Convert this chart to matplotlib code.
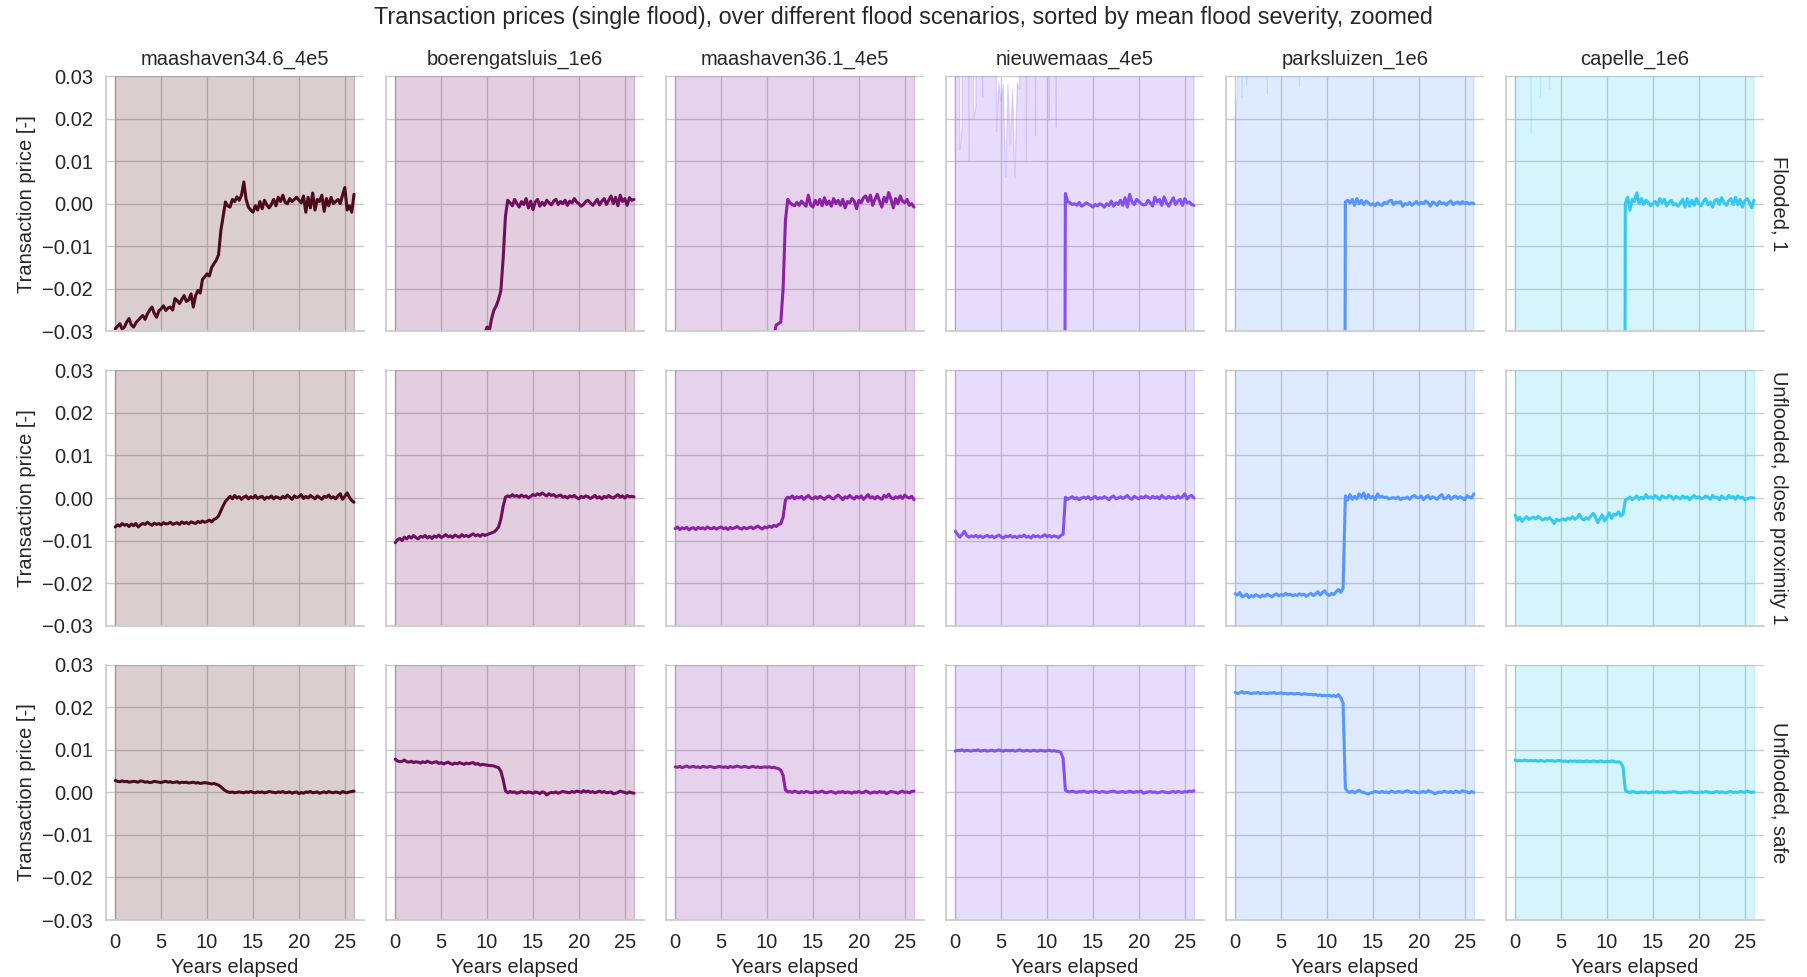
import numpy as np
import matplotlib
matplotlib.use("Agg")
import matplotlib.pyplot as plt
from matplotlib.ticker import FuncFormatter
import seaborn as sns

# ---------------- data ----------------
scenarios = ["maashaven34.6_4e5", "boerengatsluis_1e6", "maashaven36.1_4e5",
             "nieuwemaas_4e5", "parksluizen_1e6", "capelle_1e6"]
groups = ["Flooded, 1", "Unflooded, close proximity 1", "Unflooded, safe"]
colors = ["#4b0b1b", "#6f0d5e", "#8b22a6", "#8452f0", "#5697ff", "#35c9ef"]
years = np.arange(0, 26.001, 0.25)          # quarterly time steps, 0..26 years
x_ticks = [0, 5, 10, 15, 20, 25]
y_ticks = [-0.03, -0.02, -0.01, 0.0, 0.01, 0.02, 0.03]
scale = 1e-4                                 # values below are in units of 0.0001

# Flooded, 1
flooded_maashaven346 = [
    -294, -288, -282, -295, -290, -278, -270, -285,
    -290, -280, -274, -268, -263, -272, -259, -250,
    -243, -258, -267, -252, -247, -240, -251, -245,
    -243, -250, -223, -228, -235, -225, -216, -230,
    -226, -212, -243, -216, -204, -210, -178, -172,
    -165, -170, -150, -141, -133, -120, -63, -30,
    4, -5, -8, 10, 5, 16, 8, 20,
    51, 10, -8, -15, -20, -5, -15, 5,
    -12, 8, -3, -10, -2, 10, -5, 15,
    5, 20, 3, 0, 12, 5, 10, 15,
    8, 2, 18, -20, 15, -10, 25, -15,
    10, 5, 20, -18, 12, -5, 15, 0,
    5, 10, 0, 20, 38, -15, -5, -20,
    22]
flooded_boerengatsluis = [
    -620, -600, -610, -590, -580, -585, -570, -560,
    -555, -540, -545, -530, -520, -515, -505, -500,
    -490, -480, -470, -475, -460, -450, -445, -440,
    -430, -420, -415, -410, -400, -395, -385, -380,
    -370, -360, -355, -345, -340, -330, -320, -305,
    -290, -298, -270, -250, -240, -225, -205, -130,
    -30, 8, 2, -5, 10, 0, -8, 5,
    -2, 12, -10, 6, -14, 4, 10, -6,
    3, -4, 8, 2, -3, 6, 10, -2,
    5, 0, 8, -4, 6, 2, 12, 4,
    0, -6, -2, 5, 8, 2, -4, 3,
    10, -3, 6, 12, -2, 8, 18, 0,
    15, -5, 20, 5, 12, -4, 14, 8,
    10]
flooded_maashaven361 = [
    -700, -690, -680, -685, -670, -660, -655, -650,
    -640, -630, -625, -615, -610, -600, -590, -585,
    -575, -570, -560, -550, -545, -540, -530, -520,
    -515, -505, -500, -490, -480, -475, -465, -460,
    -450, -440, -430, -425, -415, -405, -395, -385,
    -370, -360, -340, -310, -285, -282, -278, -200,
    -40, 10, 2, -2, -5, 3, -4, 6,
    0, -6, 20, -3, -8, 8, -2, 10,
    -5, 14, -2, 6, -6, 12, 0, 8,
    -4, 10, -10, 5, 2, 12, 6, -12,
    8, 2, 14, 18, 5, 20, -4, 10,
    22, 6, -8, 15, 4, 26, 10, -10,
    12, 0, 18, 6, 2, 10, -4, 0,
    -8]
flooded_nieuwemaas = [
    -900, -880, -870, -860, -850, -845, -830, -820,
    -810, -800, -790, -780, -775, -760, -750, -745,
    -730, -720, -715, -700, -690, -685, -670, -660,
    -655, -640, -630, -620, -615, -600, -590, -585,
    -570, -560, -555, -540, -530, -525, -510, -500,
    -495, -480, -470, -465, -450, -440, -430, -2000,
    24, 5, 2, -2, 0, -4, 3, -6,
    -3, 2, -1, -4, -8, -2, -5, 0,
    -3, -8, 0, -4, 6, -6, 2, -2,
    8, -4, 14, -8, 22, 4, -2, 10,
    5, 0, -3, -2, 8, 2, -6, 15,
    4, 10, -4, 16, 2, -6, 4, 14,
    -2, 6, 10, -4, 12, 2, 4, -2,
    -4]
flooded_parksluizen = [
    -900, -890, -880, -870, -860, -850, -840, -830,
    -820, -810, -800, -790, -780, -770, -760, -750,
    -740, -730, -720, -710, -700, -690, -680, -670,
    -660, -650, -640, -630, -620, -610, -600, -590,
    -580, -570, -560, -550, -540, -530, -520, -510,
    -500, -490, -480, -470, -460, -450, -440, -2500,
    4, 8, 2, 10, -4, 12, 0, 8,
    -2, 6, 2, -3, 0, -5, 2, -2,
    -4, 3, 0, 6, 8, -2, 4, 2,
    5, -6, 0, -2, 3, -4, 1, 5,
    -2, 3, 0, 6, 2, -6, 4, 1,
    -4, 5, 0, 2, -3, 3, 6, -2,
    2, 4, -1, 5, 0, 3, -1, 2,
    0]
flooded_capelle = [
    -950, -940, -930, -920, -910, -900, -890, -880,
    -870, -860, -850, -840, -830, -820, -810, -800,
    -790, -780, -770, -760, -750, -740, -730, -720,
    -710, -700, -690, -680, -670, -660, -650, -640,
    -630, -620, -610, -600, -590, -580, -570, -560,
    -550, -540, -530, -520, -510, -500, -490, -2500,
    0, 15, -15, 10, 5, 25, 0, 12,
    -2, 8, 3, -5, 0, 5, -4, 12,
    2, 10, -5, 3, 8, -3, 0, -6,
    2, 10, -8, 12, -6, 8, -4, 12,
    0, -5, 5, 12, -3, 4, -8, 8,
    10, -2, 14, 2, -4, 6, 12, -2,
    15, -3, 10, -8, 6, 12, 4, -10,
    8]

# Unflooded, close proximity 1
close_maashaven346 = [
    -68, -63, -66, -60, -64, -62, -67, -61,
    -65, -60, -68, -63, -60, -62, -57, -61,
    -64, -59, -62, -60, -63, -58, -61, -60,
    -57, -62, -60, -58, -62, -56, -60, -57,
    -61, -56, -58, -60, -55, -58, -54, -57,
    -55, -52, -56, -50, -48, -42, -30, -18,
    -8, -2, 4, -2, 6, 0, 3, -3,
    2, 5, -2, 3, 0, 6, -1, 2,
    4, -3, 2, 0, 5, -2, 3, 1,
    -2, 4, 0, 7, 2, -3, 5, 1,
    3, 8, -1, 4, 0, 6, 2, -2,
    5, 1, -3, 4, 2, 7, 0, 3,
    -2, 5, 10, -3, 4, 12, 2, -6,
    -10]
close_boerengatsluis = [
    -105, -98, -95, -100, -92, -96, -90, -94,
    -88, -93, -96, -90, -92, -88, -94, -90,
    -95, -89, -92, -87, -93, -90, -86, -91,
    -89, -93, -87, -90, -92, -86, -90, -88,
    -91, -87, -84, -89, -86, -90, -85, -88,
    -86, -84, -82, -80, -75, -68, -50, -20,
    2, 5, 3, 8, 4, 6, 2, 7,
    3, 5, 0, 4, 8, 6, 10, 7,
    12, 8, 5, 10, 6, 8, 3, 5,
    7, 2, 4, 0, 5, 3, 6, 1,
    -2, 4, 1, 5, 3, -1, 2, 6,
    0, 3, -2, 4, 1, 6, 2, 0,
    4, 8, 2, 5, 0, 6, 3, 4,
    3]
close_maashaven361 = [
    -72, -68, -74, -70, -72, -69, -75, -71,
    -70, -74, -69, -72, -70, -73, -68, -71,
    -72, -69, -73, -70, -68, -72, -70, -74,
    -69, -72, -70, -67, -71, -73, -69, -72,
    -70, -68, -72, -69, -66, -70, -73, -68,
    -70, -66, -69, -64, -67, -62, -60, -45,
    -5, 2, 0, 5, -2, 3, 0, 4,
    -3, 2, 6, 0, -2, 3, -1, 4,
    1, -3, 2, 5, 0, -2, 3, 7,
    2, -4, 3, 0, 6, 1, -2, 4,
    0, 5, -3, 2, 8, 0, 3, -2,
    4, 0, -3, 6, 2, 9, 1, -2,
    3, 0, 5, -1, 7, 2, 0, 4,
    -4]
close_nieuwemaas = [
    -78, -85, -92, -86, -78, -88, -92, -89,
    -91, -88, -92, -89, -93, -90, -88, -92,
    -89, -93, -90, -87, -91, -94, -89, -91,
    -88, -92, -90, -93, -89, -91, -87, -92,
    -90, -94, -88, -91, -89, -92, -90, -86,
    -91, -88, -92, -89, -90, -93, -88, -85,
    2, -3, 0, 3, -2, 1, -4, 0,
    2, -1, 3, -3, 0, 4, -2, 1,
    -1, 3, 0, -4, 2, 5, -2, 0,
    3, -1, 2, 6, 0, -3, 4, 1,
    -2, 3, 0, 5, 2, -1, 4, 0,
    3, -2, 6, 1, -1, 4, 0, 2,
    -1, 5, 0, 3, 10, -2, 4, 6,
    0]
close_parksluizen = [
    -225, -228, -222, -232, -230, -226, -234, -229,
    -232, -227, -230, -233, -228, -231, -226, -229,
    -232, -228, -225, -230, -227, -229, -224, -228,
    -226, -230, -227, -229, -225, -228, -226, -231,
    -227, -224, -229, -226, -220, -228, -222, -218,
    -226, -229, -224, -227, -220, -215, -222, -212,
    5, -5, 8, -3, 4, -2, 10, 2,
    12, -2, 8, 0, 4, -4, 10, 2,
    4, 1, 2, -2, 0, 1, -1, 2,
    -4, 0, -1, 2, -3, 3, 6, 2,
    0, 5, -4, 2, 6, -2, 3, 0,
    -3, 4, 8, -2, 0, 6, -3, 2,
    5, -1, 3, 0, -4, 6, 2, 0,
    10]
close_capelle = [
    -40, -52, -45, -55, -48, -44, -50, -47,
    -45, -49, -43, -47, -52, -48, -50, -46,
    -52, -60, -50, -53, -51, -49, -52, -47,
    -50, -44, -50, -46, -38, -48, -52, -46,
    -50, -42, -36, -45, -58, -48, -40, -54,
    -45, -35, -48, -38, -40, -32, -42, -38,
    -5, -2, 2, -4, 0, 5, -3, 2,
    -2, 8, 0, 3, -1, 6, 2, -4,
    5, 2, 0, 6, 3, -3, 4, 1,
    -2, 5, 0, 3, -4, 2, 6, 0,
    3, -2, 0, 5, 2, -3, 6, 1,
    2, -4, 5, 0, -2, 6, 1, 3,
    -3, 5, 0, 2, -4, -2, 0, 1,
    0]

# Unflooded, safe
safe_maashaven346 = [
    28, 26, 25, 27, 25, 26, 24, 25,
    26, 25, 24, 27, 26, 24, 25, 23,
    24, 26, 25, 24, 23, 25, 26, 24,
    25, 23, 24, 25, 22, 24, 23, 24,
    22, 23, 24, 22, 23, 21, 22, 23,
    22, 21, 20, 21, 19, 17, 13, 8,
    4, 1, 0, 1, -1, 0, 1, 0,
    -1, 1, 0, 2, 0, -1, 1, 0,
    1, -1, 0, 2, 1, 0, -1, 1,
    0, 2, -1, 0, 1, -2, 0, 1,
    -3, 0, -2, 1, 0, 2, -1, 0,
    1, -2, 0, 1, -1, 2, 0, -1,
    1, 0, -2, 2, 0, -1, 1, 2,
    3]
safe_boerengatsluis = [
    78, 74, 72, 73, 76, 72, 71, 73,
    70, 72, 71, 69, 72, 70, 73, 71,
    69, 71, 72, 68, 70, 67, 69, 71,
    68, 66, 69, 67, 70, 68, 66, 69,
    67, 69, 70, 66, 68, 64, 66, 65,
    64, 63, 63, 62, 60, 58, 50, 30,
    4, -1, 2, 0, 1, -2, 0, 2,
    0, -1, 1, 0, -2, 1, 0, -3,
    1, 0, -6, -2, 0, -1, 1, -2,
    0, 2, 1, 0, -1, 2, 0, 3,
    2, 0, 4, 1, 3, 0, 2, -1,
    1, 3, 0, 2, -1, 0, 1, -3,
    -2, 0, 3, 1, 0, -2, 1, -1,
    -2]
safe_maashaven361 = [
    60, 59, 61, 58, 60, 62, 59, 60,
    61, 59, 60, 58, 61, 60, 59, 61,
    60, 58, 59, 61, 60, 59, 60, 58,
    61, 59, 60, 62, 60, 59, 61, 60,
    58, 60, 61, 59, 60, 58, 59, 60,
    59, 60, 58, 59, 57, 56, 52, 40,
    6, 1, 2, 0, 3, 1, -1, 2,
    0, 2, 1, -1, 0, 2, 0, 1,
    3, 0, -1, 1, 2, 0, -2, 1,
    0, 2, -1, 1, 0, -2, 1, 0,
    2, -1, 0, 3, 1, -2, 0, 1,
    -1, 2, 0, 1, -3, 0, 2, 1,
    0, -2, 1, 3, 0, 1, -1, 2,
    3]
safe_nieuwemaas = [
    97, 99, 98, 100, 97, 99, 98, 97,
    99, 98, 100, 97, 98, 99, 97, 98,
    99, 97, 98, 100, 98, 97, 99, 98,
    98, 99, 97, 98, 100, 98, 97, 99,
    98, 97, 99, 98, 97, 99, 98, 97,
    98, 99, 97, 98, 97, 96, 94, 80,
    5, 2, 1, 3, 1, 0, 2, 1,
    3, 1, 0, 2, 1, 3, 1, 0,
    2, 1, 0, 1, 2, 3, 1, 0,
    1, 2, 0, 1, 3, 1, 0, 2,
    1, 3, -2, 0, 1, 2, 0, 1,
    -1, 0, 2, 1, 0, -1, 1, 2,
    0, 2, 1, 0, 2, 1, 3, 2,
    4]
safe_parksluizen = [
    235, 232, 234, 237, 233, 235, 234, 232,
    234, 233, 235, 232, 234, 233, 232, 234,
    233, 235, 232, 233, 234, 232, 233, 231,
    233, 232, 231, 233, 232, 230, 232, 231,
    230, 231, 229, 230, 228, 229, 227, 228,
    227, 228, 226, 228, 225, 230, 222, 210,
    10, 2, 0, 3, -1, 2, 5, 1,
    0, -2, -4, -1, 0, 2, 1, 0,
    2, 0, 1, -1, 3, 1, 0, 2,
    1, 0, 2, 4, 1, 0, 2, 0,
    -1, 1, 2, 0, 4, 2, 0, -3,
    -1, 1, 0, 3, 1, 0, 2, -1,
    3, 1, 0, 4, 2, 1, -1, 2,
    0]
safe_capelle = [
    76, 74, 75, 74, 76, 75, 74, 75,
    74, 75, 73, 75, 74, 73, 75, 74,
    75, 73, 74, 75, 74, 73, 74, 72,
    74, 73, 74, 72, 74, 73, 72, 74,
    73, 72, 74, 73, 72, 74, 73, 72,
    73, 72, 74, 73, 71, 72, 70, 60,
    5, 1, 0, 2, 1, -1, 0, 1,
    0, 1, -1, 0, 1, 0, 2, 0,
    1, -1, 0, 1, 0, 2, 1, 0,
    -1, 0, 1, 0, 2, 1, 0, -1,
    0, 1, 0, 2, 1, 0, -1, 1,
    2, 0, 1, 0, -1, 1, 2, 0,
    1, 0, 2, 1, 0, 3, 1, 0,
    1]

series = [
    [flooded_maashaven346, flooded_boerengatsluis, flooded_maashaven361,
     flooded_nieuwemaas, flooded_parksluizen, flooded_capelle],
    [close_maashaven346, close_boerengatsluis, close_maashaven361,
     close_nieuwemaas, close_parksluizen, close_capelle],
    [safe_maashaven346, safe_boerengatsluis, safe_maashaven361,
     safe_nieuwemaas, safe_parksluizen, safe_capelle],
]

# Confidence band (very wide, so it fills the zoomed view); values in 1e-4
band_low = -5000
band_high = 5000
# points where the upper bound of the band dips into view (year: value*1e-4)
band_upper_dips = {
    (0, 3): {0.5: 126, 0.75: 180, 1.5: 102, 2.0: 200, 2.25: 230,
             3.0: 250, 4.5: 170, 4.75: 285, 5.0: 240, 5.25: 280, 5.5: 63,
             5.75: 280, 6.0: 140, 6.25: 270, 6.5: 60, 6.75: 285, 7.0: 270,
             7.75: 102, 8.75: 160, 10.25: 196, 11.0: 180},
    (0, 4): {0.0: 200, 0.25: 260, 0.75: 250, 1.25: 280, 3.5: 258, 7.0: 275},
    (0, 5): {1.75: 165, 2.75: 250, 3.75: 270},
}

# ---------------- plot ----------------
sns.set_theme(style="whitegrid")
plt.rcParams["font.family"] = ["Liberation Sans", "DejaVu Sans"]
FS = 14.5

fig, axes = plt.subplots(3, 6, figsize=(18.07, 9.77), dpi=100,
                         sharex=True, sharey=True)
fig.subplots_adjust(left=0.0587, right=0.9762, top=0.9222, bottom=0.0583,
                    wspace=0.085, hspace=0.153)


def fmt(v, pos):
    s = f"{v:.2f}"
    if s == "-0.00":
        s = "0.00"
    return s.replace("-", "\u2212")


for r in range(3):
    for c in range(6):
        ax = axes[r, c]
        col = colors[c]
        vals = np.array(series[r][c], dtype=float) * scale
        upper = np.full(len(years), band_high, dtype=float)
        for yr, v in band_upper_dips.get((r, c), {}).items():
            upper[int(round(yr / 0.25))] = v
        lower = np.full(len(years), band_low, dtype=float)
        ax.fill_between(years, lower * scale, upper * scale, color=col,
                        alpha=0.2, linewidth=1.0)
        ax.plot(years, vals, color=col, lw=2.2)
        ax.set_xlim(-1.0, 27.1)
        ax.set_ylim(-0.03, 0.03)
        ax.set_xticks(x_ticks)
        ax.set_yticks(y_ticks)
        ax.yaxis.set_major_formatter(FuncFormatter(fmt))
        ax.tick_params(labelsize=FS, colors=".15")
        for s in ("top", "right"):
            ax.spines[s].set_visible(False)
        for s in ("left", "bottom"):
            ax.spines[s].set_color(".8")
        if r == 0:
            ax.set_title(scenarios[c], fontsize=FS, pad=8, color=".15")
        if c == 0:
            ax.set_ylabel("Transaction price [-]", fontsize=FS, color=".15")
        if r == 2:
            ax.set_xlabel("Years elapsed", fontsize=FS, color=".15")
        if c == 5:
            ax.annotate(groups[r], xy=(1.02, 0.5), xycoords="axes fraction",
                        rotation=270, ha="left", va="center", fontsize=FS,
                        color=".15")

fig.suptitle("Transaction prices (single flood), over different flood scenarios, "
             "sorted by mean flood severity, zoomed", fontsize=16.8,
             y=0.9816, va="center", color=".15")

fig.savefig("out.png", dpi=100)
